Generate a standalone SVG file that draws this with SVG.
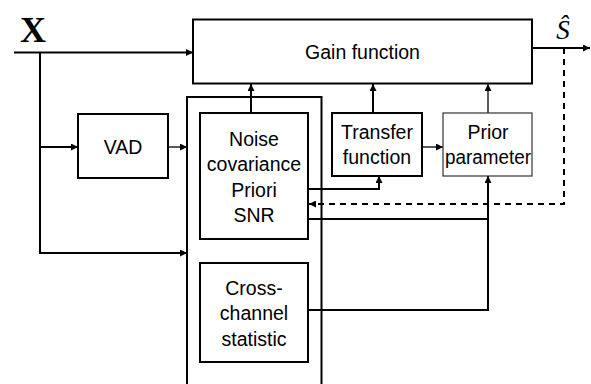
<svg xmlns="http://www.w3.org/2000/svg" width="591" height="384" viewBox="0 0 591 384">
<defs>
<marker id="ah" viewBox="0 0 10 10" refX="10" refY="5" markerWidth="8" markerHeight="7" markerUnits="userSpaceOnUse" orient="auto"><path d="M0,0 L10,5 L0,10 Z" fill="#000"/></marker>
</defs>
<style>
.box{fill:#fff;stroke:#000;stroke-width:2}
.thin{fill:#fff;stroke:#333;stroke-width:1.2}
.ln{fill:none;stroke:#000;stroke-width:2}
.tl{fill:none;stroke:#000;stroke-width:1.3}
.ds{fill:none;stroke:#000;stroke-width:2;stroke-dasharray:6,5}
.t{font-family:"Liberation Sans",Arial,sans-serif;font-size:19.5px;fill:#000;text-anchor:middle}
.m{font-family:"Liberation Serif","Times New Roman",serif;fill:#000;text-anchor:middle}
</style>
<rect width="591" height="384" fill="#fff"/>
<g id="connectors">
<path class="ln" d="M14,52.5 H193" marker-end="url(#ah)"/>
<path class="ln" d="M40,52.5 V253 H187" marker-end="url(#ah)"/>
<path class="ln" d="M40,147 H78" marker-end="url(#ah)"/>
<path class="tl" d="M168,147 H187" marker-end="url(#ah)"/>
<path class="ln" d="M251,113 V84" marker-end="url(#ah)"/>
<path class="ln" d="M373,113 V84" marker-end="url(#ah)"/>
<path class="tl" d="M488,113 V84" marker-end="url(#ah)"/>
<path class="tl" d="M422,147 H443" marker-end="url(#ah)"/>
<path class="ln" d="M532,48 H590" marker-end="url(#ah)"/>
<path class="ds" d="M564,48 V204 H309" marker-end="url(#ah)"/>
<path class="ln" d="M308,189 H379 V176" marker-end="url(#ah)"/>
<path class="ln" d="M308,219 H488 V176" marker-end="url(#ah)"/>
<path class="ln" d="M308,310 H488 V219"/>
</g>
<g id="outer">
<path class="ln" d="M187,384 V97 H321.5 V384"/>
</g>
<g id="gain">
<rect class="box" x="193" y="19.5" width="339" height="64"/>
<text class="t" x="362.5" y="59">Gain function</text>
</g>
<g id="vad">
<rect class="box" x="78" y="114" width="90" height="64"/>
<text class="t" x="123" y="154">VAD</text>
</g>
<g id="noise">
<rect class="box" x="200" y="113" width="108" height="126"/>
<text class="t" x="254" y="146">Noise</text>
<text class="t" x="254" y="171">covariance</text>
<text class="t" x="254" y="197">Priori</text>
<text class="t" x="254" y="222">SNR</text>
</g>
<g id="cross">
<rect class="box" x="200" y="263" width="108" height="99"/>
<text class="t" x="254" y="295">Cross-</text>
<text class="t" x="254" y="320">channel</text>
<text class="t" x="254" y="346">statistic</text>
</g>
<g id="transfer">
<rect class="box" x="332" y="113" width="90" height="63"/>
<text class="t" x="377" y="139">Transfer</text>
<text class="t" x="377" y="164">function</text>
</g>
<g id="prior">
<rect class="thin" x="443" y="113" width="89" height="63"/>
<text class="t" x="488" y="139">Prior</text>
<text class="t" x="488" y="164" textLength="86" lengthAdjust="spacingAndGlyphs">parameter</text>
</g>
<g id="labels">
<text class="m" x="33" y="42" font-weight="bold" font-size="36">X</text>
<text class="m" x="563" y="39" font-style="italic" font-size="27">Ŝ</text>
</g>
</svg>
